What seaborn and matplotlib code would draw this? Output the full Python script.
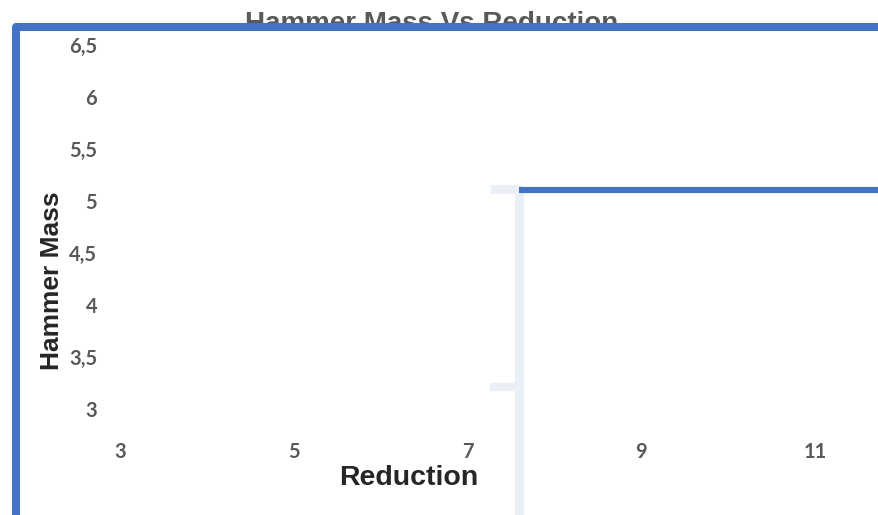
import matplotlib
matplotlib.use("Agg")
import matplotlib.pyplot as plt
import seaborn as sns
import pandas as pd

# Tick values and labels (comma decimal separator)
x_ticks = [3, 5, 7, 9, 11]
y_ticks = [3.0, 3.5, 4.0, 4.5, 5.0, 5.5, 6.0, 6.5]
y_tick_labels = ["3", "3,5", "4", "4,5", "5", "5,5", "6", "6,5"]

# Outer series: runs up the left edge and across the top
frame_x = [1.80, 1.80, 12.5]
frame_y = [1.90, 6.673, 6.673]

# Reduction series level
level_x = [7.59, 12.5]
level_y = [5.106, 5.106]

# Pale drop line with its two stubs
drop_x = [7.26, 7.597, 7.597]
drop_y = [5.115, 5.115, 1.90]
stub_x = [7.26, 7.597]
stub_y = [3.21, 3.21]

BLUE = "#4472C4"
PALE = "#EAEFF8"
GREY = "#595959"

sns.set_theme(style="white")
plt.rcParams["font.family"] = ["Liberation Sans", "DejaVu Sans"]

fig = plt.figure(figsize=(8.79, 5.15), dpi=100)
W, H = 879, 515
left_px, right_px, top_px, bottom_px = 100, 879, 33, 435
ax = fig.add_axes([left_px / W, (H - bottom_px) / H,
                   (right_px - left_px) / W, (bottom_px - top_px) / H])

# px = -140.7 + 86.9 * x ; py = 409 - 104 * (y - 3)
ax.set_xlim((left_px + 140.7) / 86.9, (right_px + 140.7) / 86.9)
ax.set_ylim(3 - (bottom_px - 409) / 104, 3 + (409 - top_px) / 104)

def draw(xs, ys, color, lw, z):
    df = pd.DataFrame({"x": xs, "y": ys})
    sns.lineplot(data=df, x="x", y="y", sort=False, estimator=None,
                 color=color, linewidth=lw, ax=ax, zorder=z)
    ln = ax.lines[-1]
    ln.set_clip_on(False)
    ln.set_solid_joinstyle("round")
    ln.set_solid_capstyle("butt")

draw(drop_x, drop_y, PALE, 6.5, 3)
draw(stub_x, stub_y, PALE, 6.0, 3)
draw(frame_x, frame_y, BLUE, 5.8, 4)
draw(level_x, level_y, BLUE, 4.4, 5)

for s in ax.spines.values():
    s.set_visible(False)

ax.set_xticks(x_ticks)
ax.set_xticklabels([str(v) for v in x_ticks])
ax.set_yticks(y_ticks)
ax.set_yticklabels(y_tick_labels)
ax.tick_params(axis="both", length=0, colors=GREY)
ax.tick_params(axis="y", pad=2)
ax.tick_params(axis="x", pad=5)
for lab in ax.get_xticklabels() + ax.get_yticklabels():
    lab.set_fontfamily(["Lato", "DejaVu Sans"])
    lab.set_fontweight("bold")
    lab.set_fontsize(14.5)
    lab.set_color(GREY)

ax.set_xlabel("Reduction", fontsize=20.5, fontweight="bold", color="#262626")
ax.xaxis.set_label_coords((409 - left_px) / (right_px - left_px),
                          (bottom_px - 465) / (bottom_px - top_px))
ax.set_ylabel("Hammer Mass", fontsize=19, fontweight="bold", color="#262626")
ax.yaxis.set_label_coords((64 - left_px) / (right_px - left_px),
                          (bottom_px - 281) / (bottom_px - top_px))

# Title sits beneath the top edge line
ax.text(432 / W, 1 - 31 / H, "Hammer Mass Vs Reduction",
        transform=fig.transFigure, ha="center", va="baseline",
        fontsize=20, fontweight="bold", color=GREY, zorder=1, clip_on=False)

fig.savefig("out.png", dpi=100)
